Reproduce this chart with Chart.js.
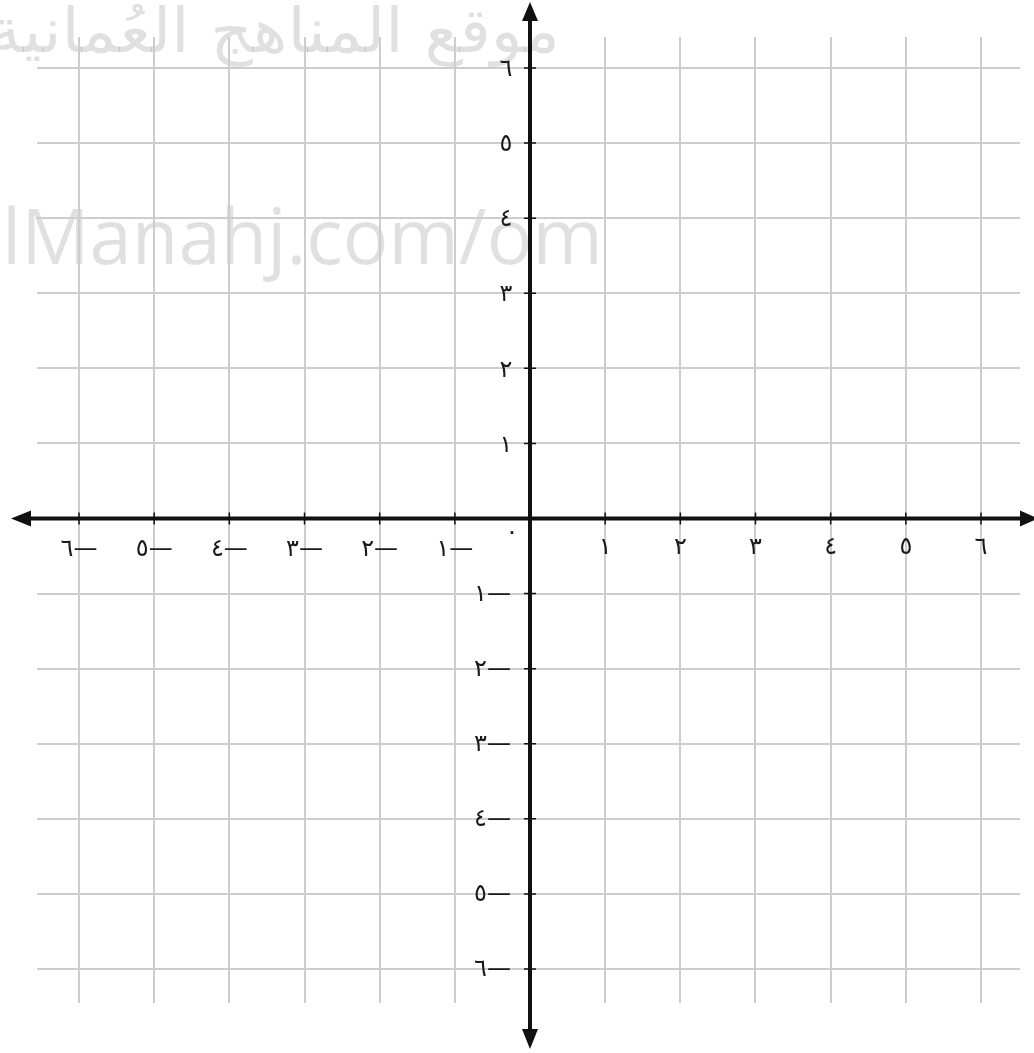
<!DOCTYPE html>
<html>
<head>
<meta charset="utf-8">
<script src="https://cdn.jsdelivr.net/npm/chart.js@4.4.1/dist/chart.umd.min.js"></script>
<style>
    html, body { margin: 0; padding: 0; background: #fff; }
</style>
</head>
<body>
<canvas id="myChart" width="1034" height="1053"></canvas>
<script>
// grid values and their Arabic-Indic labels
const tickValues = [-6, -5, -4, -3, -2, -1, 0, 1, 2, 3, 4, 5, 6];
const xTickLabels = ['٦—', '٥—', '٤—', '٣—', '٢—', '١—', '٠', '١', '٢', '٣', '٤', '٥', '٦'];
const yTickLabels = ['٦—', '٥—', '٤—', '٣—', '٢—', '١—', '٠', '١', '٢', '٣', '٤', '٥', '٦'];
const xRange = [-6.559, 6.519];
const yRange = [-6.453, 6.413];

const arabicMark = 'موقع المناهج العُمانية';
const latinMark = 'lManahj.com/om';

const labelFont = '24px "DejaVu Sans"';
const labelColor = '#1a1a1a';

const axesPlugin = {
    id: 'axes',
    beforeDraw: function (chart) {
        var ctx = chart.ctx;
        ctx.save();
        ctx.fillStyle = 'rgba(0,0,0,0.12)';
        ctx.font = '62px "DejaVu Sans"';
        ctx.textAlign = 'right';
        ctx.textBaseline = 'alphabetic';
        ctx.translate(560, 52);
        ctx.scale(1.06, 1);
        ctx.fillText(arabicMark, 0, 0);
        ctx.restore();
        ctx.save();
        ctx.fillStyle = 'rgba(0,0,0,0.12)';
        ctx.font = '76px "Open Sans"';
        ctx.textAlign = 'left';
        ctx.fillText(latinMark, 2, 264);
        ctx.restore();
    },
    afterDraw: function (chart) {
        var ctx = chart.ctx,
            xs = chart.scales.x,
            ys = chart.scales.y,
            x0 = xs.getPixelForValue(0),
            y0 = ys.getPixelForValue(0);
        ctx.save();

        // small crosses where the grid meets the axes
        ctx.strokeStyle = '#111';
        ctx.lineWidth = 1.5;
        ctx.beginPath();
        tickValues.forEach(function (v) {
            if (v === 0) return;
            var px = xs.getPixelForValue(v), py = ys.getPixelForValue(v);
            ctx.moveTo(px, y0 - 6); ctx.lineTo(px, y0 + 6);
            ctx.moveTo(x0 - 6, py); ctx.lineTo(x0 + 6, py);
        });
        ctx.stroke();

        // main axes
        ctx.lineWidth = 4;
        ctx.beginPath();
        ctx.moveTo(26, y0); ctx.lineTo(1026, y0);
        ctx.moveTo(x0, 18); ctx.lineTo(x0, 1032);
        ctx.stroke();

        // arrow heads
        ctx.fillStyle = '#111';
        ctx.beginPath();
        ctx.moveTo(11, y0); ctx.lineTo(31, y0 - 8); ctx.lineTo(31, y0 + 8); ctx.closePath();
        ctx.moveTo(1038, y0); ctx.lineTo(1020, y0 - 8); ctx.lineTo(1020, y0 + 8); ctx.closePath();
        ctx.moveTo(x0, 2); ctx.lineTo(x0 - 8, 21); ctx.lineTo(x0 + 8, 21); ctx.closePath();
        ctx.moveTo(x0, 1049); ctx.lineTo(x0 - 8, 1029); ctx.lineTo(x0 + 8, 1029); ctx.closePath();
        ctx.fill();

        // tick labels
        ctx.fillStyle = labelColor;
        ctx.font = labelFont;
        ctx.textBaseline = 'middle';
        tickValues.forEach(function (v, i) {
            var px = xs.getPixelForValue(v), py = ys.getPixelForValue(v);
            if (v === 0) {
                ctx.textAlign = 'center';
                ctx.fillText(xTickLabels[i], x0 - 18, y0 + 14);
                return;
            }
            ctx.textAlign = 'center';
            ctx.fillText(xTickLabels[i], px, y0 + (v < 0 ? 31 : 29));
            if (v > 0) {
                ctx.textAlign = 'center';
                ctx.fillText(yTickLabels[i], x0 - 24, py + 2);
            } else {
                ctx.textAlign = 'right';
                ctx.fillText(yTickLabels[i], x0 - 19, py + 1);
            }
        });
        ctx.restore();
    }
};

function setTicks(scale) {
    scale.ticks = tickValues.map(function (v) { return { value: v }; });
}

const config = {
    type: 'scatter',
    data: {
        datasets: [{
            data: [],
            showLine: false
        }]
    },
    options: {
        responsive: false,
        animation: false,
        layout: {
            padding: { left: 37, top: 37, right: 14, bottom: 50 }
        },
        scales: {
            x: {
                type: 'linear',
                min: xRange[0],
                max: xRange[1],
                afterBuildTicks: setTicks,
                ticks: { display: false },
                grid: { color: '#cdcdcd', lineWidth: 2, drawTicks: false },
                border: { display: false }
            },
            y: {
                type: 'linear',
                min: yRange[0],
                max: yRange[1],
                afterBuildTicks: setTicks,
                ticks: { display: false },
                grid: { color: '#cdcdcd', lineWidth: 2, drawTicks: false },
                border: { display: false }
            }
        },
        plugins: {
            legend: { display: false },
            tooltip: { enabled: false }
        }
    },
    plugins: [axesPlugin]
};

var myChart = new Chart(
    document.getElementById('myChart'),
    config
);
</script>
</body>
</html>
